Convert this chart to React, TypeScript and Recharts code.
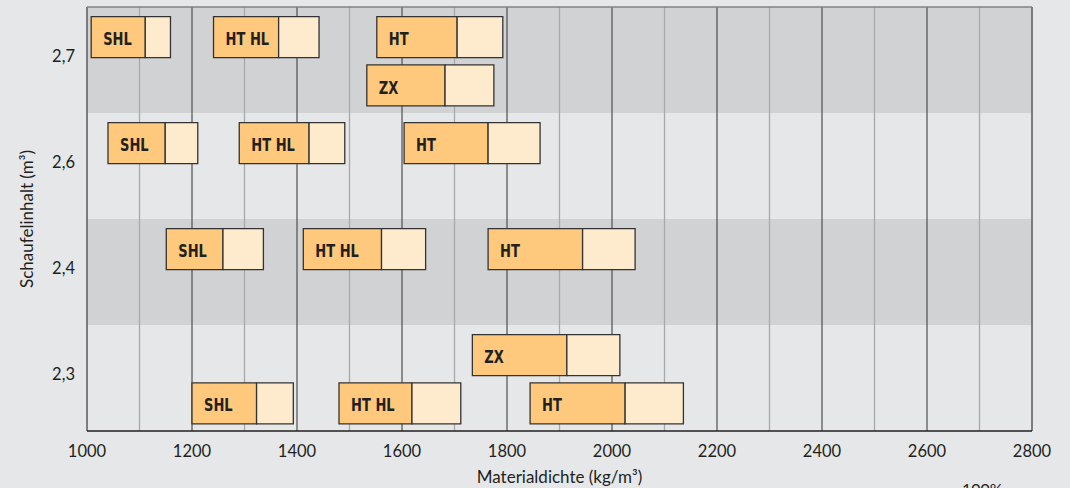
import React from 'react';
import { ComposedChart, Bar, XAxis, YAxis, CartesianGrid, ReferenceLine, Label, LabelList } from 'recharts';

// Schaufelinhalt-Klassen, von oben nach unten
const bands = ['2,7', '2,6', '2,4', '2,3'];

// Zeilen im Diagramm: Klasse und Lage im Band
const rowBand = ['2,7', '2,7', '2,6', '2,4', '2,3', '2,3'];
const rowSlot = ['oben', 'unten', 'oben', 'oben', 'oben', 'unten'];

// Materialdichte je Zeile: [von, Wechsel, bis] in kg/m³
const shl = [[1008, 1111, 1159], null, [1040, 1149, 1211], [1151, 1259, 1336], null, [1200, 1323, 1393]];
const htHl = [[1241, 1365, 1442], null, [1290, 1423, 1491], [1412, 1561, 1645], null, [1480, 1619, 1712]];
const ht = [[1552, 1705, 1792], null, [1604, 1764, 1863], [1764, 1944, 2044], null, [1844, 2025, 2136]];
const zx = [null, [1533, 1682, 1775], null, null, [1734, 1914, 2015], null];

const xTicks = [1000, 1200, 1400, 1600, 1800, 2000, 2200, 2400, 2600, 2800];
const xMinor = [1100, 1300, 1500, 1700, 1900, 2100, 2300, 2500, 2700];

const models = [
  { key: 'shl', name: 'SHL' },
  { key: 'htHl', name: 'HT HL' },
  { key: 'ht', name: 'HT' },
  { key: 'zx', name: 'ZX' },
];

const data = rowBand.map((band, i) => ({
  pos: bands.indexOf(band) * 2 + (rowSlot[i] === 'oben' ? 0.56 : 1.47),
  shl: shl[i],
  htHl: htHl[i],
  ht: ht[i],
  zx: zx[i],
}));

const TEXT = '#231f20';
const DARK = '#fec97c';
const LIGHT = '#feebcd';
const EDGE = '#333333';
const BAND_DARK = '#d1d2d4';
const BAND_LIGHT = '#e6e7e8';
const MAJOR = '#58595b';
const MINOR = '#a7a9ac';
const FONT = 'Lato, "Open Sans", sans-serif';
const BOX_FONT = '"Liberation Sans Narrow", "DejaVu Sans Condensed", "Roboto Condensed", sans-serif';
const BAR_H = 41;

const boxLabel = (name: string) => (props: any) => {
  const vb = props.viewBox ?? props;
  const { x, y, width, height } = vb;
  if (![x, y, width, height].every((v) => Number.isFinite(v)) || width <= 0) return null;
  const tx = x + 12;
  return (
    <text
      x={tx}
      y={y + height / 2 + 2}
      dy="0.355em"
      transform={`translate(${tx} 0) scale(0.83 1) translate(${-tx} 0)`}
      fontSize={17.5}
      fontWeight={700}
      fontFamily={BOX_FONT}
      fill={TEXT}
    >
      {name}
    </text>
  );
};

const BandTick = (props: any) => {
  const { x, y, payload } = props;
  const label = bands[(payload.value - 1) / 2];
  return (
    <text x={x} y={y - 3.5} dy="0.355em" textAnchor="end" fontSize={16.5} fontFamily={FONT} fill={TEXT}>
      {label}
    </text>
  );
};

const YTitle = (props: any) => {
  const vb = props.viewBox;
  const cx = vb.x + 27;
  const cy = vb.y + vb.height / 2;
  return (
    <text
      x={cx}
      y={cy}
      dy="0.355em"
      transform={`rotate(-90, ${cx}, ${cy})`}
      textAnchor="middle"
      fontSize={17}
      fontFamily={FONT}
      fill={TEXT}
    >
      Schaufelinhalt (m³)
    </text>
  );
};

export default function App() {
  return (
    <div style={{ position: 'absolute', left: 0, top: 0, width: 1070, height: 488, background: BAND_LIGHT, overflow: 'hidden' }}>
      <ComposedChart
        width={1070}
        height={488}
        data={data}
        layout="vertical"
        margin={{ top: 7, right: 38, bottom: 0, left: 0 }}
        barGap={-BAR_H}
      >
        <CartesianGrid yAxisId="bands" vertical={false} stroke="none" horizontalFill={[BAND_DARK, BAND_LIGHT]} fillOpacity={1} />
        <CartesianGrid xAxisId="minor" horizontal={false} stroke={MINOR} strokeWidth={1.3} />
        <CartesianGrid horizontal={false} stroke={MAJOR} strokeWidth={1.3} />

        <XAxis
          type="number"
          domain={[1000, 2800]}
          ticks={xTicks}
          interval={0}
          height={57}
          tickLine={false}
          tickMargin={8}
          axisLine={{ stroke: TEXT, strokeWidth: 1.5 }}
          tick={{ fill: TEXT, fontSize: 16.5, fontFamily: FONT }}
          allowDataOverflow
        >
          <Label value="Materialdichte (kg/m³)" position="insideBottom" offset={5} fill={TEXT} fontSize={17} fontFamily={FONT} />
        </XAxis>
        <XAxis xAxisId="minor" type="number" domain={[1000, 2800]} ticks={xMinor} interval={0} hide allowDataOverflow />

        <YAxis
          type="number"
          dataKey="pos"
          domain={[0, 8]}
          ticks={[1, 3, 5, 7]}
          interval={0}
          width={87}
          axisLine={false}
          tickLine={false}
          tickMargin={6}
          tick={<BandTick />}
          allowDataOverflow
        >
          <Label content={<YTitle />} />
        </YAxis>
        <YAxis
          yAxisId="bands"
          type="number"
          dataKey="pos"
          domain={[0, 8]}
          ticks={[0, 2, 4, 6, 8]}
          interval={0}
          hide
          allowDataOverflow
        />

        <ReferenceLine y={0} stroke="#808285" strokeWidth={1.3} />

        {models.map((m) => [
          <Bar
            key={m.key + '-a'}
            dataKey={(d: any) => (d[m.key] ? [d[m.key][0], d[m.key][1]] : undefined)}
            fill={DARK}
            stroke={EDGE}
            strokeWidth={1.3}
            barSize={BAR_H}
            isAnimationActive={false}
          >
            <LabelList content={boxLabel(m.name)} />
          </Bar>,
          <Bar
            key={m.key + '-b'}
            dataKey={(d: any) => (d[m.key] ? [d[m.key][1], d[m.key][2]] : undefined)}
            fill={LIGHT}
            stroke={EDGE}
            strokeWidth={1.3}
            barSize={BAR_H}
            isAnimationActive={false}
          />,
        ])}
      </ComposedChart>
      <div style={{ position: 'absolute', left: 962, top: 481, fontSize: 16, lineHeight: '16px', fontFamily: FONT, color: TEXT }}>
        100%
      </div>
    </div>
  );
}
